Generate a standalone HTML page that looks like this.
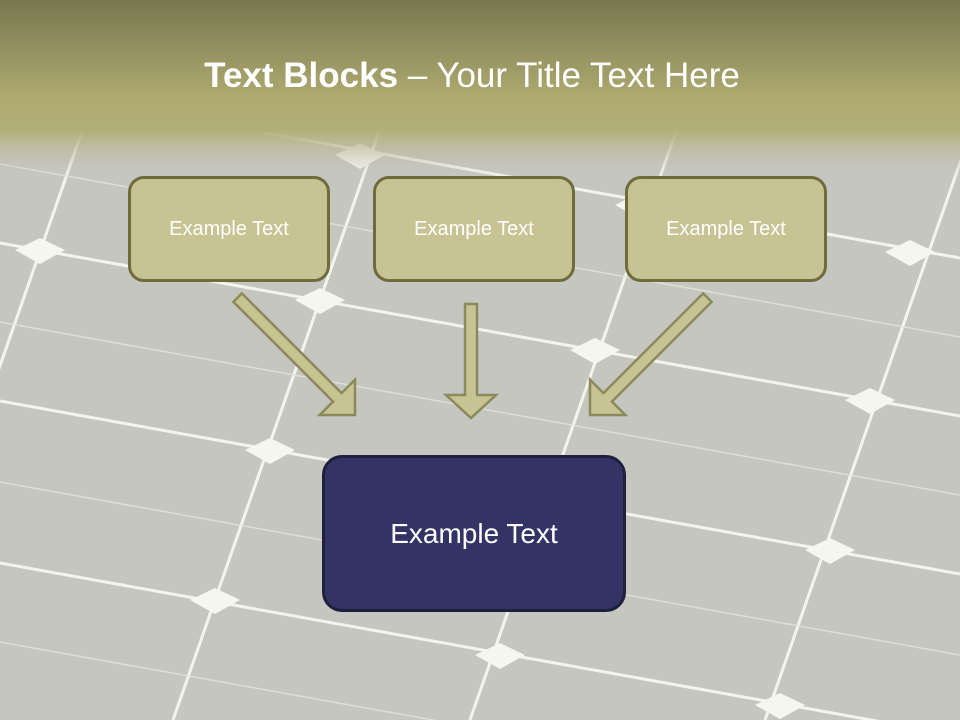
<!DOCTYPE html>
<html><head><meta charset="utf-8"><style>
html,body{margin:0;padding:0;width:960px;height:720px;overflow:hidden}
body{position:relative;background:#c6c6c0;font-family:"Liberation Sans",sans-serif}
svg{position:absolute;left:0;top:0;overflow:hidden}
.box{position:absolute;box-sizing:border-box;background:#c8c392;border:3px solid #6e6c3c;border-radius:16px;color:#fff;font-size:20px;display:flex;align-items:center;justify-content:center}
.big{background:#333366;border-color:#1f1f3f;font-size:28px;border-radius:20px}
.title{position:absolute;left:0;width:944px;top:56px;text-align:center;color:#fff;font-size:35px}
</style></head><body>
<svg width="960" height="720" viewBox="0 0 960 720">
<defs>
<linearGradient id="g" x1="0" y1="0" x2="0" y2="1">
<stop offset="0" stop-color="#787850"/>
<stop offset="0.55" stop-color="#aeaa70"/>
<stop offset="0.72" stop-color="#b2ae78"/>
<stop offset="1" stop-color="#c6c6c0" stop-opacity="0"/>
</linearGradient>
</defs>
<rect width="960" height="720" fill="#c6c6c1"/>
<g stroke="#f4f4ee" stroke-width="3">
<line x1="0" y1="85" x2="960" y2="258"/>
<line x1="0" y1="243" x2="960" y2="416"/>
<line x1="0" y1="401" x2="960" y2="574"/>
<line x1="0" y1="563" x2="960" y2="736"/>
<line x1="128" y1="0" x2="-124" y2="720"/>
<line x1="425" y1="0" x2="173" y2="720"/>
<line x1="722" y1="0" x2="470" y2="720"/>
<line x1="1017" y1="0" x2="765" y2="720"/>
</g>
<g stroke="#e4e4dc" stroke-width="1.5" opacity="0.8">
<line x1="0" y1="164" x2="960" y2="337"/>
<line x1="0" y1="322" x2="960" y2="495"/>
<line x1="0" y1="482" x2="960" y2="655"/>
<line x1="0" y1="642" x2="960" y2="815"/>
</g>
<g fill="#f6f6f0">
<polygon points="15,250 40,238 65,250 40,264"/>
<polygon points="295,300 320,288 345,300 320,314"/>
<polygon points="570,350 595,338 620,350 595,364"/>
<polygon points="845,400 870,388 895,400 870,414"/>
<polygon points="245,450 270,438 295,450 270,464"/>
<polygon points="525,500 550,488 575,500 550,514"/>
<polygon points="805,550 830,538 855,550 830,564"/>
<polygon points="190,600 215,588 240,600 215,614"/>
<polygon points="475,655 500,643 525,655 500,669"/>
<polygon points="755,705 780,693 805,705 780,719"/>
<polygon points="335,155 360,143 385,155 360,169"/>
<polygon points="615,205 640,193 665,205 640,219"/>
<polygon points="885,252 910,240 935,252 910,266"/>
</g>
<rect width="960" height="180" fill="url(#g)"/>
<g fill="#c8c392" stroke="#8a8a5c" stroke-width="2.5">
<polygon transform="translate(355,415) rotate(45)" points="-166,-6 -25,-6 -25,-25 0,0 -25,25 -25,6 -166,6"/>
<polygon transform="translate(590,415) rotate(135)" points="-166,-6 -25,-6 -25,-25 0,0 -25,25 -25,6 -166,6"/>
<polygon points="465,304 477,304 477,395 496,395 471,418 446,395 465,395"/>
</g>
</svg>
<div class="title"><b>Text Blocks</b> – Your Title Text Here</div>
<div class="box" style="left:128px;top:176px;width:202px;height:106px">Example Text</div>
<div class="box" style="left:373px;top:176px;width:202px;height:106px">Example Text</div>
<div class="box" style="left:625px;top:176px;width:202px;height:106px">Example Text</div>
<div class="box big" style="left:322px;top:455px;width:304px;height:157px">Example Text</div>
</body></html>
